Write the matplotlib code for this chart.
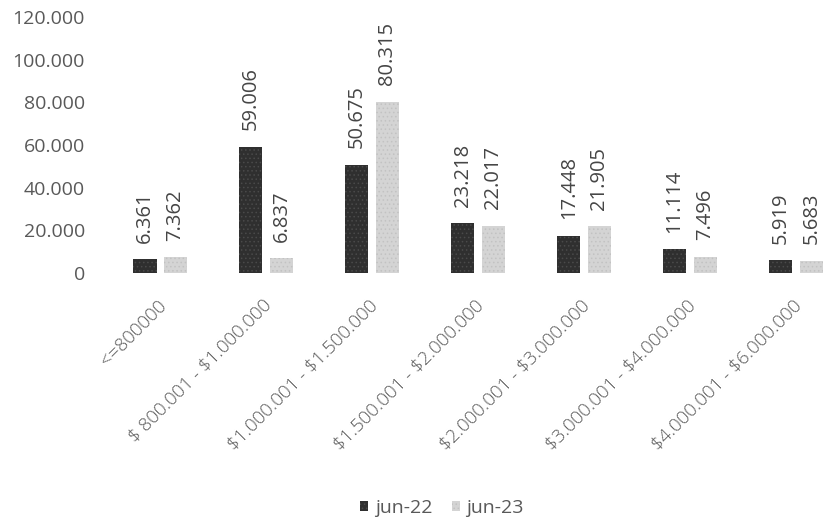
import matplotlib.pyplot as plt
import numpy as np
from matplotlib.ticker import FuncFormatter

categories = ["<=800000", "$ 800.001 - $1.000.000", "$1.000.001 - $1.500.000",
              "$1.500.001 - $2.000.000", "$2.000.001 - $3.000.000",
              "$3.000.001 - $4.000.000", "$4.000.001 - $6.000.000"]
jun22 = [6361, 59006, 50675, 23218, 17448, 11114, 5919]
jun23 = [7362, 6837, 80315, 22017, 21905, 7496, 5683]
series_names = ["jun-22", "jun-23"]


def dots(v, pos):
    return f"{int(v):,}".replace(",", ".")


def main():
    plt.rcParams['font.family'] = ['Open Sans', 'DejaVu Sans']
    plt.rcParams['hatch.linewidth'] = 0.6
    fig = plt.figure(figsize=(8.25, 5.27), dpi=100)
    ax = fig.add_axes([0.13, 0.482, 0.899, 0.486])

    x = np.arange(len(categories))
    w = 0.22
    off = 0.145
    b1 = ax.bar(x - off, jun22, w, color='#2f2f2f', edgecolor='#4a4a4a',
                hatch='....', linewidth=0, label=series_names[0])
    b2 = ax.bar(x + off, jun23, w, color='#d4d4d4', edgecolor='#c2c2c2',
                hatch='....', linewidth=0, label=series_names[1])

    for bars in (b1, b2):
        for r in bars:
            h = r.get_height()
            ax.annotate(dots(h, None), (r.get_x() + r.get_width() / 2, h),
                        xytext=(0, 12), textcoords='offset points',
                        rotation=90, ha='center', va='bottom',
                        fontsize=14.5, color='#454545')

    ax.set_xlim(-0.5, len(categories) - 0.5)
    ax.set_ylim(0, 120000)
    ax.set_yticks(np.arange(0, 120001, 20000))
    ax.yaxis.set_major_formatter(FuncFormatter(dots))
    ax.tick_params(axis='y', length=0, pad=16, labelsize=14, labelcolor='#595959')
    # $ would switch on mathtext, so escape it
    ax.set_xticks(x - 0.03)
    ax.set_xticklabels([c.replace('$', r'\$') for c in categories], rotation=45,
                       ha='right', rotation_mode='anchor', fontweight='light',
                       fontsize=13.5, color='#5a5a5a')
    ax.tick_params(axis='x', length=0, pad=17)
    for s in ax.spines.values():
        s.set_visible(False)

    fig.legend(handles=[b1, b2], labels=series_names, loc='center',
               bbox_to_anchor=(442 / 825, 19 / 527), ncol=2, frameon=False,
               handlelength=0.4, handleheight=0.4, handletextpad=0.35,
               columnspacing=1.0, fontsize=14, labelcolor='#595959')

    fig.savefig('out.png', dpi=100)


if __name__ == "__main__":
    main()
